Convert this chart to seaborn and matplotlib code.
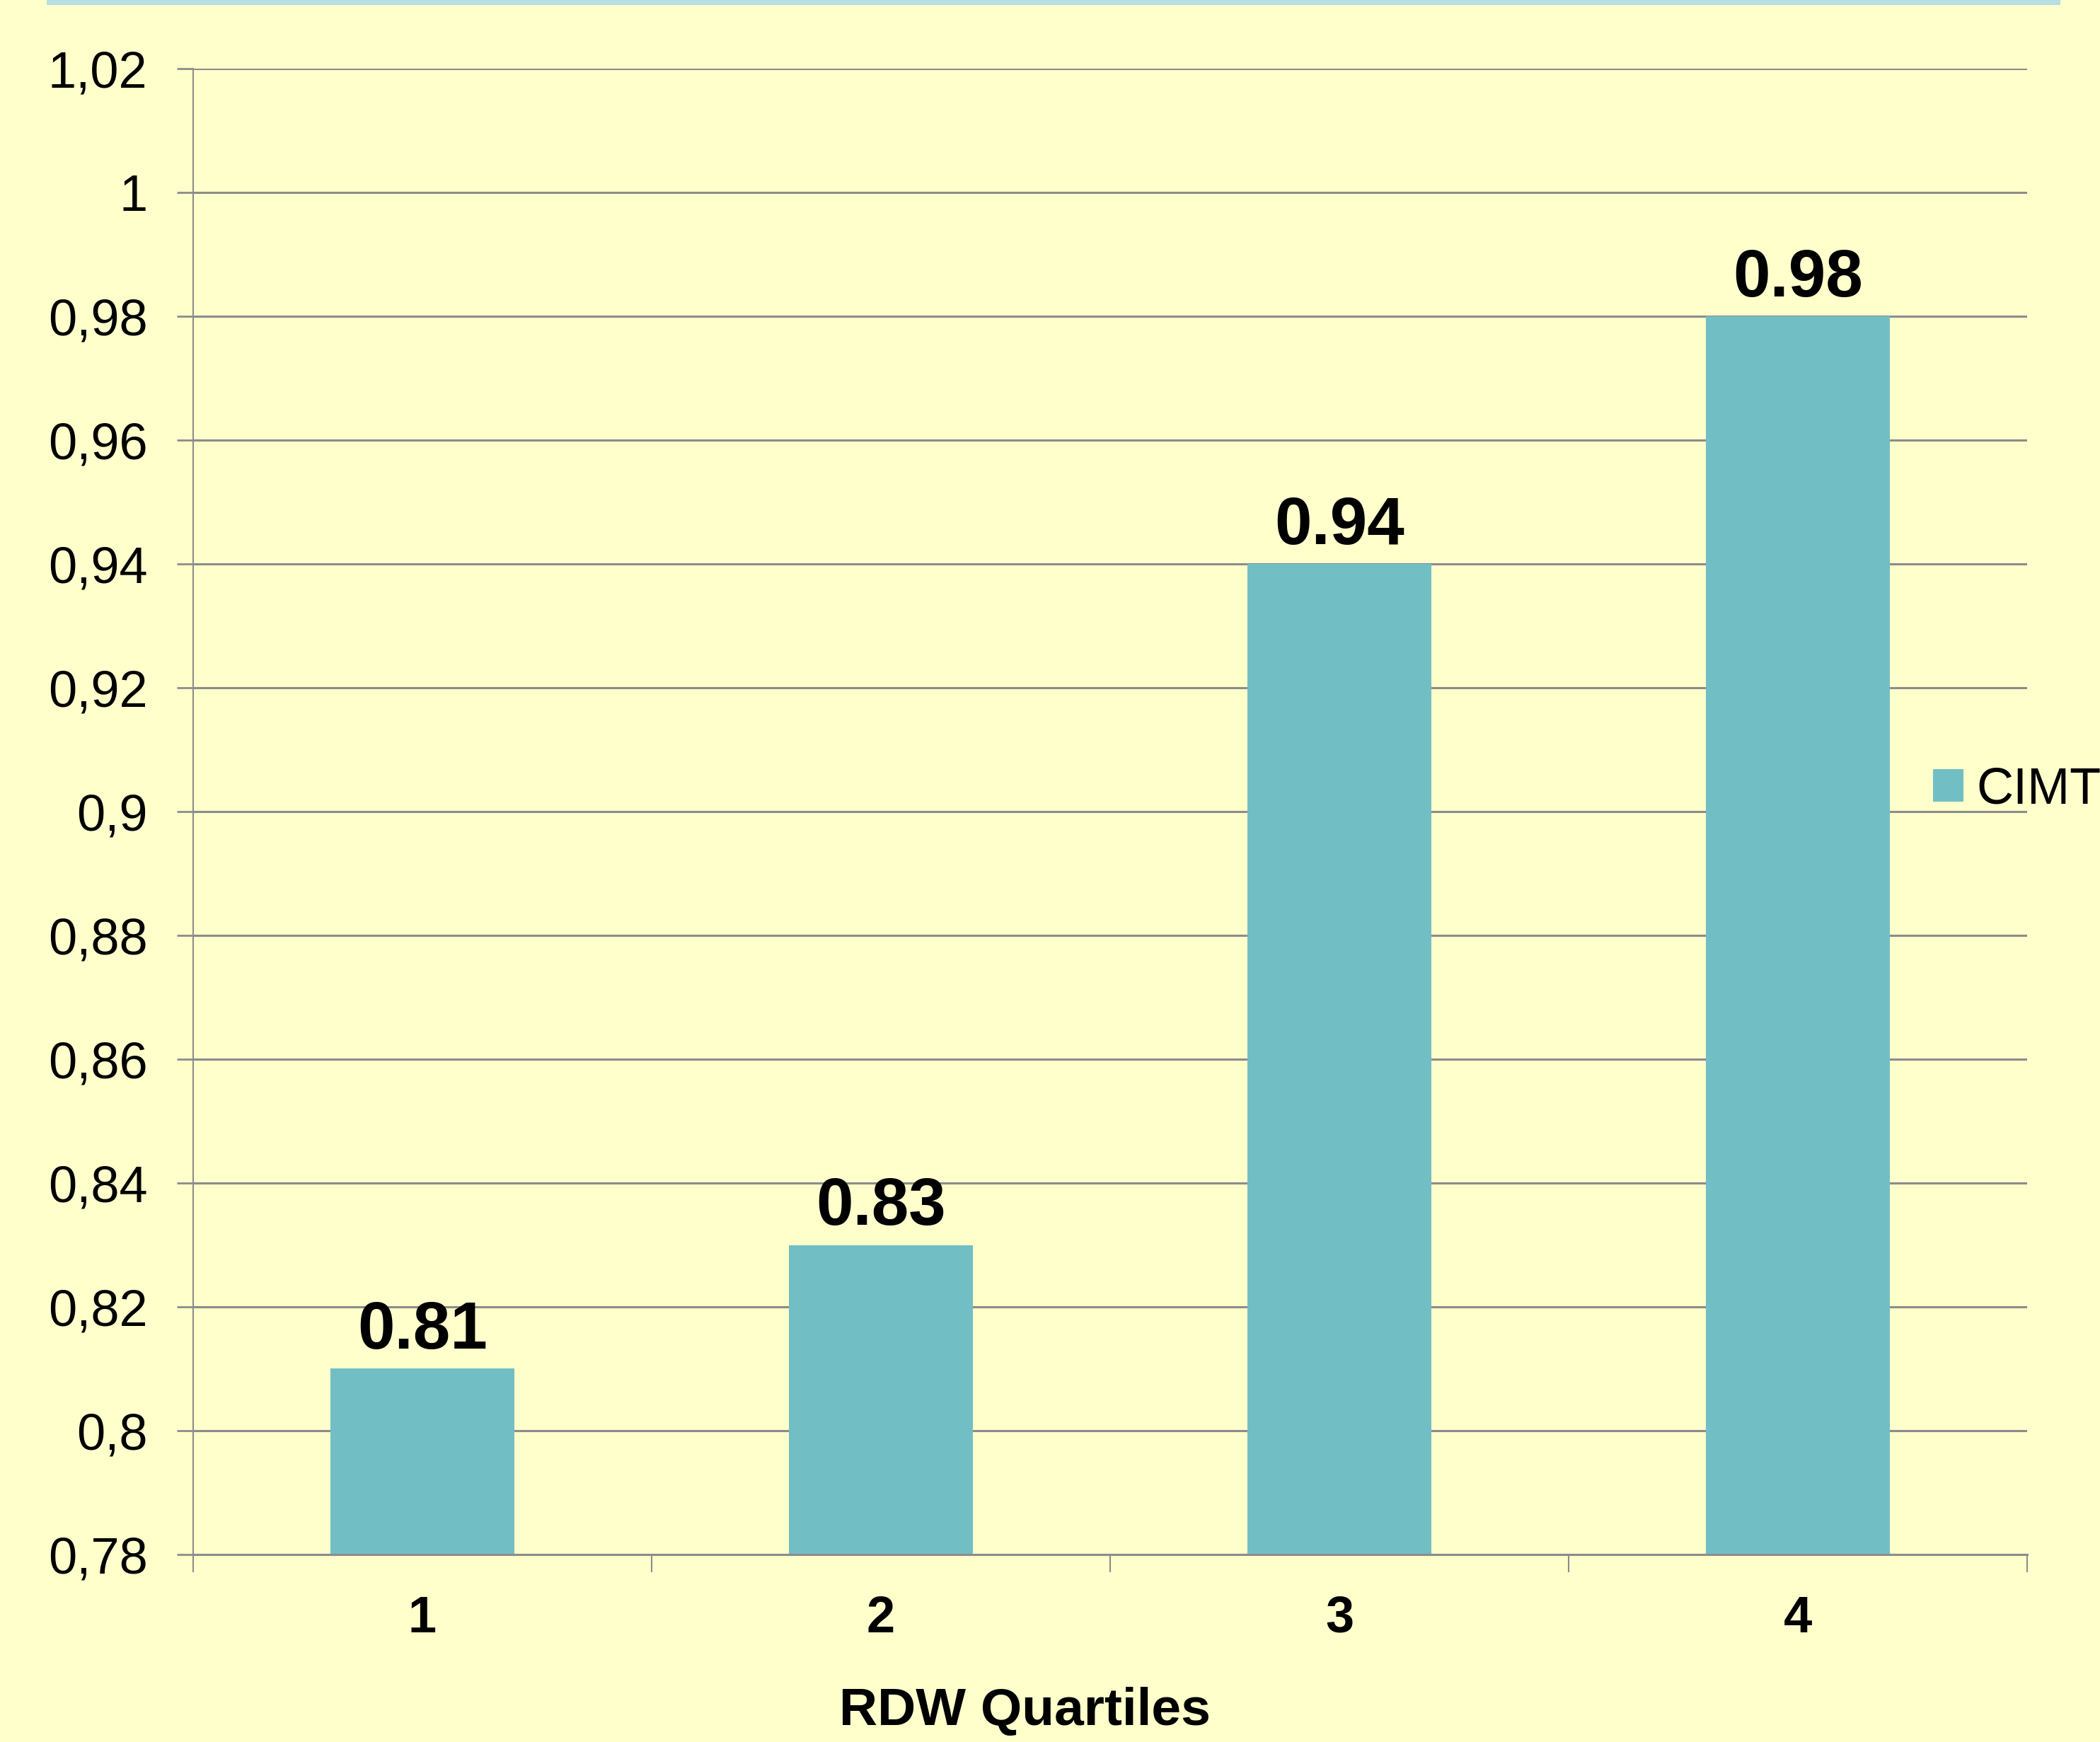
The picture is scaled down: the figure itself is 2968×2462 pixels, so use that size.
import matplotlib
matplotlib.use("Agg")
import matplotlib.pyplot as plt
import seaborn as sns
import numpy as np
import pandas as pd
from matplotlib.patches import Patch, Rectangle
from matplotlib.ticker import FixedLocator

# ---- data ----
quartiles = ["1", "2", "3", "4"]
cimt = [0.81, 0.83, 0.94, 0.98]
series_name = "CIMT"
y_ticks = [0.78, 0.80, 0.82, 0.84, 0.86, 0.88, 0.90, 0.92, 0.94, 0.96, 0.98, 1.00, 1.02]
y_tick_labels = ["0,78", "0,8", "0,82", "0,84", "0,86", "0,88", "0,9", "0,92",
                 "0,94", "0,96", "0,98", "1", "1,02"]
x_label = "RDW Quartiles"

# ---- style ----
BG = "#FFFFCC"
BAR = "#72BEC5"
GRID = "#8C8C8C"
BAND = "#B7DEE2"

sns.set_style("white")
plt.rcParams["font.family"] = ["Liberation Sans", "DejaVu Sans"]

W, H, DPI = 2968, 2462, 100
fig = plt.figure(figsize=(W / DPI, H / DPI), dpi=DPI, facecolor=BG)
ax = fig.add_axes([273 / W, 265 / H, (2865 - 273) / W, (2365 - 265) / H])
ax.set_facecolor(BG)

df = pd.DataFrame({"q": quartiles, "v": cimt})
sns.barplot(data=df, x="q", y="v", color=BAR, saturation=1, width=0.4,
            linewidth=0, ax=ax, zorder=2)

ax.set_ylim(y_ticks[0], y_ticks[-1])
ax.set_xlim(-0.5, len(quartiles) - 0.5)
ax.set_yticks(y_ticks)
ax.set_yticklabels(y_tick_labels)

ax.set_axisbelow(True)
ax.yaxis.grid(True, color=GRID, linewidth=2.2)
ax.xaxis.grid(False)

for s in ["top", "right"]:
    ax.spines[s].set_visible(False)
for s in ["left", "bottom"]:
    ax.spines[s].set_visible(True)
    ax.spines[s].set_color(GRID)
    ax.spines[s].set_linewidth(1.5)
ax.spines["bottom"].set_linewidth(2.2)

ax.tick_params(axis="y", which="major", length=16.5, width=2, color=GRID,
               labelsize=52, pad=30, left=True, labelcolor="black")
ax.xaxis.set_minor_locator(FixedLocator(np.arange(-0.5, len(quartiles), 1.0)))
ax.tick_params(axis="x", which="minor", length=18, width=1.5, color=GRID, bottom=True)
ax.tick_params(axis="x", which="major", length=0, labelsize=52, pad=41, labelcolor="black")
for lbl in ax.get_xticklabels():
    lbl.set_fontweight("bold")

ax.set_xlabel("")
ax.set_ylabel("")

# data labels
for cont in ax.containers:
    ax.bar_label(cont, labels=[f"{v:.2f}" for v in cimt], padding=6,
                 fontsize=68, fontweight="bold", color="black")

# x label
fig.text(1448 / W, 1 - 2384 / H, x_label, ha="center", va="top",
         fontsize=54, fontweight="bold", color="black")

# legend
handle = Patch(facecolor=BAR, edgecolor="none", label=series_name)
fig.legend(handles=[handle], loc="center left",
           bbox_to_anchor=(2732 / W, 1 - 1117 / H), frameon=False,
           fontsize=52, handlelength=0.6, handleheight=0.6,
           handletextpad=0.25, borderpad=0, borderaxespad=0,
           labelcolor="black")

# top decorative band
fig.patches.append(Rectangle((66 / W, 1 - 7 / H), (2912 - 66) / W, 7 / H,
                             transform=fig.transFigure, facecolor=BAND,
                             edgecolor="none", zorder=0))

fig.savefig("out.png", dpi=DPI, facecolor=BG)
